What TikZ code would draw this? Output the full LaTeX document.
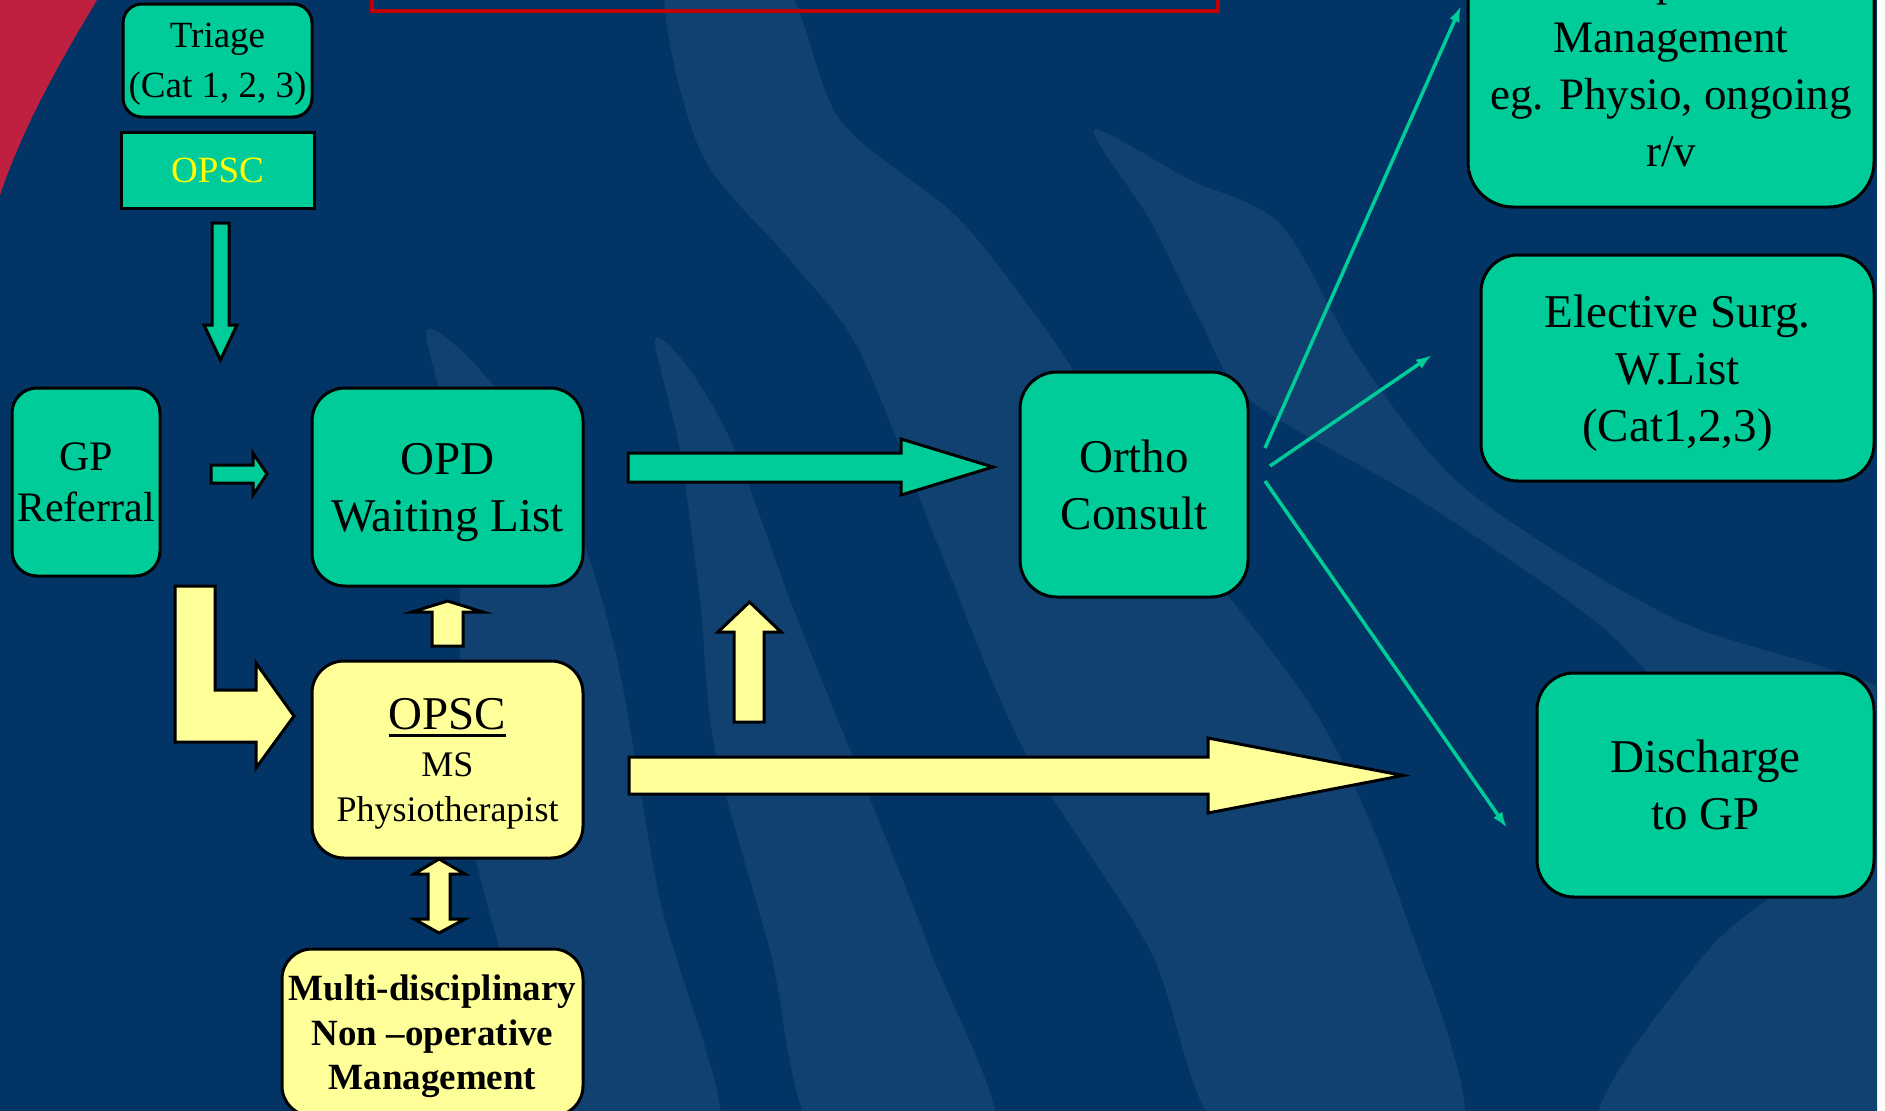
\documentclass[tikz,border=0pt]{standalone}
\usepackage{fontspec}
\setmainfont{Liberation Serif}
\usetikzlibrary{arrows.meta,positioning}

\definecolor{slidebg}{RGB}{2,53,101}
\definecolor{wave}{RGB}{16,65,112}
\definecolor{corner}{RGB}{192,32,64}
\definecolor{frame}{RGB}{192,0,0}
\definecolor{boxgreen}{RGB}{0,204,153}
\definecolor{boxyellow}{RGB}{255,255,153}
\definecolor{opsctext}{RGB}{255,255,0}

\newcommand{\ulword}[1]{\setbox0\hbox{#1}\rlap{\rule[-7.5pt]{\wd0}{3pt}}\box0}

\tikzset{
  box/.style={draw=black,line width=3pt,inner sep=0pt,align=center,text depth=0pt,
    font=\fontsize{47}{57}\selectfont},
  gbox/.style={box,fill=boxgreen},
  ybox/.style={box,fill=boxyellow},
  garrow/.style={fill=boxgreen,draw=black,line width=3pt,line join=miter},
  yarrow/.style={fill=boxyellow,draw=black,line width=3pt,line join=miter},
  link/.style={draw=boxgreen,line width=3.5pt,-{Latex[length=16pt,width=11pt]}}
}

\begin{document}
\begin{tikzpicture}[x=1pt,y=-1pt]
  \useasboundingbox (0,0) rectangle (1885,1111);
  \fill[white] (0,0) rectangle (1885,1111);
  \fill[slidebg] (0,0) rectangle (1877,1111);
  \begin{scope}
    \clip (0,0) rectangle (1877,1111);
    \fill[wave] plot[smooth cycle] coordinates {(427,330) (445,420) (460,600) (460,780) (500,950) (560,1140) (720,1140) (660,900) (615,650) (560,480) (480,370)};
    \fill[wave] plot[smooth cycle] coordinates {(655,340) (680,450) (700,600) (715,750) (770,950) (820,1140) (995,1140) (930,950) (850,750) (790,600) (735,450) (690,370)};
    \fill[wave] plot[smooth cycle] coordinates {(667,-20) (700,150) (790,260) (859,350) (940,550) (1024,750) (1150,950) (1230,1140) (1460,1140) (1400,900) (1320,720) (1200,560) (1120,450) (1060,350) (960,220) (840,120) (781,-20)};
    \fill[wave] plot[smooth cycle] coordinates {(1094,130) (1190,180) (1281,225) (1360,360) (1467,490) (1677,620) (1900,700) (1900,830) (1700,720) (1594,620) (1420,500) (1250,400) (1200,320) (1150,220)};
    \fill[wave] plot[smooth cycle] coordinates {(1600,1140) (1700,960) (1800,880) (1900,850) (1900,1140)};
  \end{scope}
  \fill[corner] (0,0) -- (97,0) .. controls (70,45) and (25,120) .. (0,195) -- cycle;
  \draw[frame,line width=3.5pt] (372,-40) rectangle (1218,11);

  \node[gbox,rounded corners=19pt,minimum width=189pt,minimum height=113pt,font=\fontsize{37}{50}\selectfont] (triage) at (217.5,60.5) {Triage\\(Cat 1, 2, 3)};
  \node[gbox,minimum width=193pt,minimum height=76pt,font=\fontsize{37}{44}\selectfont,text=opsctext] (opsc) [below=12pt of triage] {OPSC};
  \node[gbox,rounded corners=25pt,minimum width=148pt,minimum height=188pt,font=\fontsize{42}{51}\selectfont] (gp) at (86,482) {GP\\Referral};
  \node[gbox,rounded corners=33pt,minimum width=271pt,minimum height=198pt] (opd) at (447.5,487) {OPD\\Waiting List};
  \node[gbox,rounded corners=37pt,minimum width=228pt,minimum height=225pt] (ortho) at (1134,484.5) {Ortho\\Consult};
  \node[gbox,rounded corners=45pt,minimum width=406pt,minimum height=282pt,font=\fontsize{45}{57}\selectfont] (nonop) at (1671,66) {Non-operative\\Management\\eg. Physio, ongoing\\r/v};
  \node[gbox,rounded corners=37pt,minimum width=393pt,minimum height=226pt] (elective) at (1677.5,368) {Elective Surg.\\W.List\\(Cat1,2,3)};
  \node[gbox,rounded corners=37pt,minimum width=337pt,minimum height=224pt] (discharge) at (1705.5,785) {Discharge\\to GP};
  \node[ybox,rounded corners=32pt,minimum width=271pt,minimum height=197pt,text depth=-6pt,font=\fontsize{36}{45}\selectfont] (physio) at (447.5,759.5) {{\fontsize{47}{47}\selectfont\ulword{OPSC}}\\[2pt]MS\\Physiotherapist};
  \node[ybox,rounded corners=30pt,minimum width=301pt,minimum height=167pt,font=\fontsize{37}{44.5}\selectfont\bfseries] (mdt) at (432.5,1032.5) {Multi-disciplinary\\Non --operative\\Management};

  \draw[garrow] (212,223) -- (229,223) -- (229,325) -- (237,325) -- (220.5,360) -- (204,325) -- (212,325) -- cycle;
  \draw[garrow] (211,465) -- (253,465) -- (253,453) -- (267,474) -- (253,495) -- (253,483) -- (211,483) -- cycle;
  \draw[garrow] (628,453) -- (901,453) -- (901,439) -- (993,467) -- (901,495) -- (901,482) -- (628,482) -- cycle;
  \draw[yarrow] (175,586) -- (215,586) -- (215,690) -- (256,690) -- (256,663) -- (294,716) -- (256,768) -- (256,742) -- (175,742) -- cycle;
  \draw[yarrow] (432,646) -- (463,646) -- (463,612) -- (483,612) -- (447.5,601) -- (412,612) -- (432,612) -- cycle;
  \draw[yarrow] (734,722) -- (764,722) -- (764,632) -- (781,632) -- (749.5,602) -- (718,632) -- (734,632) -- cycle;
  \draw[yarrow] (629,757) -- (1208,757) -- (1208,738) -- (1403,775.5) -- (1208,813) -- (1208,794) -- (629,794) -- cycle;
  \draw[yarrow] (428,874) -- (414,874) -- (439,859) -- (465,874) -- (450,874) -- (450,919) -- (465,919) -- (439,933) -- (414,919) -- (428,919) -- cycle;

  \coordinate (o1) at (1265,448);
  \coordinate (o2) at (1270,466);
  \coordinate (o3) at (1265,481);
  \coordinate (t1) at (1461,6);
  \coordinate (t2) at (1432,355);
  \coordinate (t3) at (1507,828);
  \draw[link] (o1) -- (t1);
  \draw[link] (o2) -- (t2);
  \draw[link] (o3) -- (t3);
\end{tikzpicture}
\end{document}
